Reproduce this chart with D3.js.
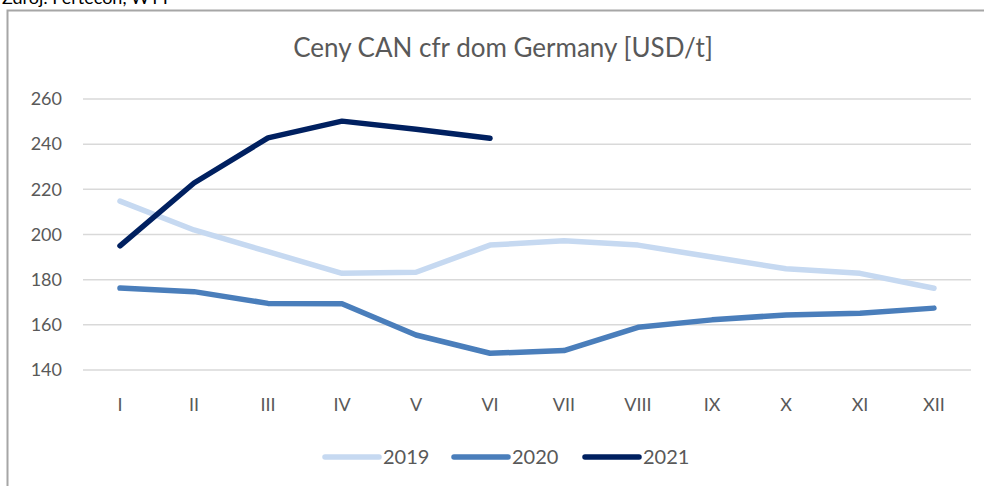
<!DOCTYPE html>
<html>
<head>
<meta charset="utf-8">
<script src="https://cdn.jsdelivr.net/npm/d3@7"></script>
<style>
  body { margin: 0; background: #fff; }
  text { font-family: Lato, "Open Sans", sans-serif; fill: #595959; }
</style>
</head>
<body>
<script>
// Data
var months = ["I", "II", "III", "IV", "V", "VI", "VII", "VIII", "IX", "X", "XI", "XII"];
var yTicks = [140, 160, 180, 200, 220, 240, 260];
var v2019 = [214.8, 202, 192.4, 182.8, 183.3, 195.3, 197.2, 195.3, 190, 184.8, 182.8, 176.2];
var v2020 = [176.3, 174.7, 169.5, 169.3, 155.5, 147.4, 148.6, 158.9, 162.2, 164.4, 165.1, 167.4];
var v2021 = [195, 222.8, 242.8, 250.2, 246.6, 242.6];

var series = [
  {name: "2019", values: v2019, color: "#c6d9f1"},
  {name: "2020", values: v2020, color: "#4a7ebb"},
  {name: "2021", values: v2021, color: "#002060"}
];

var W = 984, H = 486;
var plot = {left: 83, right: 971, top: 99, bottom: 370};

var svg = d3.select("body").append("svg")
  .attr("width", W).attr("height", H);

// source line, cut off at the top edge as in the original
svg.append("text")
  .attr("x", 2).attr("y", 4)
  .style("font-size", "18px").style("fill", "#000")
  .text("Zdroj: Fertecon, WTT");

// chart frame
svg.append("rect")
  .attr("x", 7.5).attr("y", 10.5)
  .attr("width", 1000).attr("height", 500)
  .attr("fill", "#fff").attr("stroke", "#a6a6a6").attr("stroke-width", 2);

var x = d3.scaleBand().domain(months).range([plot.left, plot.right]);
var y = d3.scaleLinear().domain([140, 260]).range([plot.bottom, plot.top]);

// gridlines
svg.append("g").selectAll("line")
  .data(yTicks).enter().append("line")
    .attr("x1", plot.left).attr("x2", plot.right)
    .attr("y1", function(d) { return y(d); })
    .attr("y2", function(d) { return y(d); })
    .attr("stroke", "#d9d9d9").attr("stroke-width", 1.5);

// y labels
svg.append("g").selectAll("text")
  .data(yTicks).enter().append("text")
    .attr("x", 62)
    .attr("y", function(d) { return y(d); })
    .attr("dy", "0.35em")
    .attr("text-anchor", "end")
    .style("font-size", "18px")
    .text(function(d) { return d; });

// x labels
svg.append("g").selectAll("text")
  .data(months).enter().append("text")
    .attr("x", function(d) { return x(d) + x.bandwidth() / 2; })
    .attr("y", 411)
    .attr("text-anchor", "middle")
    .style("font-size", "18px")
    .text(function(d) { return d; });

// lines
var line = d3.line()
  .x(function(d, i) { return x(months[i]) + x.bandwidth() / 2; })
  .y(function(d) { return y(d); });

svg.append("g").selectAll("path")
  .data(series).enter().append("path")
    .attr("d", function(s) { return line(s.values); })
    .attr("fill", "none")
    .attr("stroke", function(s) { return s.color; })
    .attr("stroke-width", 5.5)
    .attr("stroke-linecap", "round")
    .attr("stroke-linejoin", "round");

// title
svg.append("text")
  .attr("x", 503).attr("y", 57)
  .attr("text-anchor", "middle")
  .style("font-size", "26px")
  .text("Ceny CAN cfr dom Germany [USD/t]");

// legend
var legendX = [325, 454, 585];
var leg = svg.append("g").selectAll("g")
  .data(series).enter().append("g")
    .attr("transform", function(d, i) { return "translate(" + legendX[i] + ",457)"; });
leg.append("line")
  .attr("x1", 0).attr("x2", 54)
  .attr("stroke", function(d) { return d.color; })
  .attr("stroke-width", 5.5)
  .attr("stroke-linecap", "round");
leg.append("text")
  .attr("x", 58).attr("dy", "0.35em")
  .style("font-size", "20px")
  .text(function(d) { return d.name; });
</script>
</body>
</html>
